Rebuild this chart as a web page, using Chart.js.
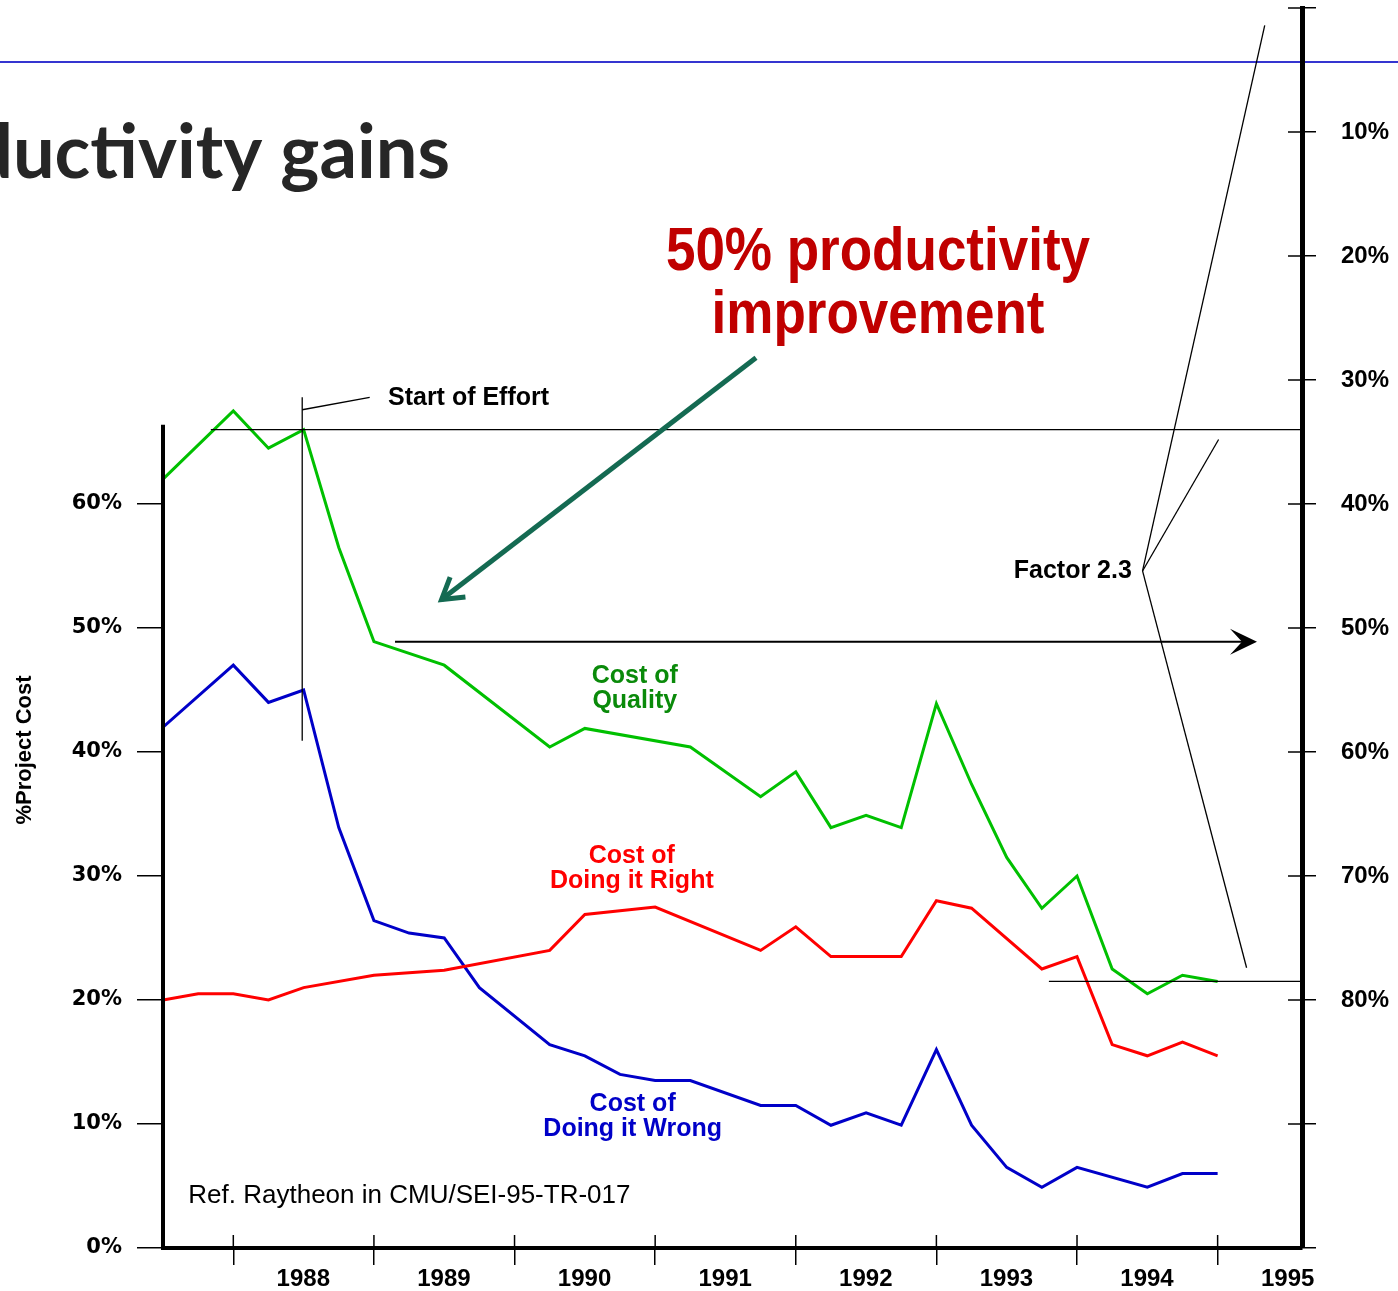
<!DOCTYPE html>
<html>
<head>
<meta charset="utf-8">
<script src="https://cdn.jsdelivr.net/npm/chart.js@4.4.1/dist/chart.umd.min.js"></script>
<style>
  html, body { margin: 0; padding: 0; background: #fff; overflow: hidden; }
  #wrap { width: 1398px; height: 1291px; }
</style>
</head>
<body>
<div id="wrap"><canvas id="chart"></canvas></div>
<script>
// quarterly readings, null = no bend in the line at that quarter
const quarters = [1987.5, 1987.75, 1988, 1988.25, 1988.5, 1988.75, 1989, 1989.25, 1989.5, 1989.75,
  1990, 1990.25, 1990.5, 1990.75, 1991, 1991.25, 1991.5, 1991.75, 1992, 1992.25,
  1992.5, 1992.75, 1993, 1993.25, 1993.5, 1993.75, 1994, 1994.25, 1994.5, 1994.75, 1995];
const costOfQuality = [62.0, null, 67.5, 64.5, 66.0, 56.5, 48.9, null, 47.0, null,
  null, 40.4, 41.9, null, null, 40.4, null, 36.4, 38.4, 33.9,
  34.9, 33.9, 43.9, 37.4, 31.5, 27.4, 30.0, 22.5, 20.5, 22.0, 21.5];
const costDoingRight = [20.0, 20.5, 20.5, 20.0, 21.0, null, 22.0, null, 22.4, null,
  null, 24.0, 26.9, null, 27.5, null, null, 24.0, 25.9, 23.5,
  null, 23.5, 28.0, 27.4, null, 22.5, 23.5, 16.4, 15.5, 16.6, 15.5];
const costDoingWrong = [42.0, null, 47.0, 44.0, 45.0, 33.9, 26.4, 25.4, 25.0, 21.0,
  null, 16.4, 15.5, 14.0, 13.5, 13.5, null, 11.5, 11.5, 9.9,
  10.9, 9.9, 16.0, 9.9, 6.5, 4.9, 6.5, null, 4.9, 6.0, 6.0];

const yearTicks = [1988, 1989, 1990, 1991, 1992, 1993, 1994, 1995];
const leftTicks = [0, 10, 20, 30, 40, 50, 60];
const rightTicks = [0, 10, 20, 30, 40, 50, 60, 70, 80, 90, 100];
const rightLabelled = [10, 20, 30, 40, 50, 60, 70, 80];

const series = [
  { label: 'Cost of Quality', values: costOfQuality, color: '#00c000' },
  { label: 'Cost of Doing it Right', values: costDoingRight, color: '#ff0000' },
  { label: 'Cost of Doing it Wrong', values: costDoingWrong, color: '#0000c8' }
];

const ARIAL = 'Liberation Sans, Arial, sans-serif';

function seg(c, x1, y1, x2, y2) {
  c.beginPath(); c.moveTo(x1, y1); c.lineTo(x2, y2); c.stroke();
}

function noPad(s) {
  s.paddingTop = 0; s.paddingBottom = 0; s.paddingLeft = 0; s.paddingRight = 0;
}

const overlay = {
  id: 'overlay',
  beforeDraw(chart) {
    const c = chart.ctx;
    c.save();
    c.strokeStyle = '#3535d0';
    c.lineWidth = 2;
    seg(c, 0, 62, chart.width, 62);
    c.fillStyle = '#262626';
    c.font = 'bold 74px Lato, sans-serif';
    c.textAlign = 'right';
    c.textBaseline = 'alphabetic';
    c.fillText('Productivity gains', 450, 178);
    c.restore();
  },
  afterDraw(chart) {
    const c = chart.ctx;
    const xs = chart.scales.x, ys = chart.scales.y, y2 = chart.scales.y2;
    const X = v => xs.getPixelForValue(v);
    const Y = v => ys.getPixelForValue(v);
    const area = chart.chartArea;
    c.save();
    c.strokeStyle = '#000';
    c.lineCap = 'butt';

    // left axis only runs up to the start level
    c.lineWidth = 4;
    seg(c, area.left, Y(0) + 2, area.left, Y(66.4));
    // inner halves of the crossing ticks
    c.lineWidth = 1.5;
    xs.ticks.forEach(t => { const p = X(t.value); seg(c, p, area.bottom - 13, p, area.bottom); });
    y2.ticks.forEach(t => { const p = y2.getPixelForValue(t.value); seg(c, area.right - 14, p, area.right, p); });

    // reference lines
    c.lineWidth = 1.3;
    seg(c, X(1987.84), Y(66), area.right, Y(66));
    seg(c, X(1993.8), Y(21.5), area.right, Y(21.5));
    // start of effort marker
    seg(c, X(1988.49), Y(68.6), X(1988.49), Y(40.9));
    seg(c, X(1988.49), Y(67.6), X(1988.97), Y(68.6));
    // factor 2.3 brackets
    const fx = X(1994.466), fy = Y(54.6);
    seg(c, fx, fy, X(1995.335), Y(98.6));
    seg(c, fx, fy, X(1995.007), Y(65.2));
    seg(c, fx, fy, X(1995.206), Y(22.6));

    // black arrow at 50% level
    const ay = Y(48.9), ax0 = X(1989.15), ax1 = X(1995.28);
    c.lineWidth = 2;
    seg(c, ax0, ay, ax1 - 12, ay);
    c.fillStyle = '#000';
    c.beginPath();
    c.moveTo(ax1, ay); c.lineTo(ax1 - 27, ay - 13); c.lineTo(ax1 - 15, ay); c.lineTo(ax1 - 27, ay + 13);
    c.closePath(); c.fill();

    // green pointer arrow
    const gx0 = X(1991.717), gy0 = Y(71.8), gx1 = X(1989.481), gy1 = Y(52.3);
    c.strokeStyle = '#146a52';
    c.lineWidth = 5;
    c.lineJoin = 'miter';
    seg(c, gx0, gy0, gx1, gy1);
    const ang = Math.atan2(gy0 - gy1, gx0 - gx1);
    c.beginPath();
    c.moveTo(gx1 + 24 * Math.cos(ang - 0.55), gy1 + 24 * Math.sin(ang - 0.55));
    c.lineTo(gx1, gy1);
    c.lineTo(gx1 + 24 * Math.cos(ang + 0.55), gy1 + 24 * Math.sin(ang + 0.55));
    c.stroke();

    // texts
    c.textBaseline = 'middle';
    c.fillStyle = '#000';
    c.font = 'bold 25px ' + ARIAL;
    c.textAlign = 'left';
    c.fillText('Start of Effort', X(1989.1), Y(68.5));
    c.textAlign = 'right';
    c.fillText('Factor 2.3', X(1994.39), fy);

    c.textAlign = 'center';
    c.fillStyle = '#0a8a0a';
    c.fillText('Cost of', X(1990.855), Y(46.1));
    c.fillText('Quality', X(1990.855), Y(44.1));
    c.fillStyle = '#ff0000';
    c.fillText('Cost of', X(1990.834), Y(31.6));
    c.fillText('Doing it Right', X(1990.834), Y(29.6));
    c.fillStyle = '#0000c8';
    c.fillText('Cost of', X(1990.84), Y(11.6));
    c.fillText('Doing it Wrong', X(1990.84), Y(9.6));

    c.fillStyle = '#000';
    c.textAlign = 'left';
    c.font = '26px ' + ARIAL;
    c.fillText('Ref. Raytheon in CMU/SEI-95-TR-017', X(1987.68), Y(4.2));

    // condensed red heading
    c.save();
    c.fillStyle = '#c00000';
    c.textAlign = 'center';
    c.textBaseline = 'alphabetic';
    c.font = 'bold 62px ' + ARIAL;
    c.translate(878, 0);
    c.scale(0.855, 1);
    c.fillText('50% productivity', 0, 270);
    c.fillText('improvement', 0, 333);
    c.restore();

    // axis title
    c.save();
    c.translate(25, 750);
    c.rotate(-Math.PI / 2);
    c.fillStyle = '#000';
    c.textAlign = 'center';
    c.textBaseline = 'middle';
    c.font = 'bold 22px ' + ARIAL;
    c.fillText('%Project Cost', 0, 0);
    c.restore();

    c.restore();
  }
};

new Chart(document.getElementById('chart'), {
  type: 'line',
  data: {
    datasets: series.map(s => ({
      label: s.label,
      data: quarters.map((q, i) => ({ x: q, y: s.values[i] })),
      borderColor: s.color,
      borderWidth: 3,
      pointRadius: 0,
      tension: 0,
      spanGaps: true,
      fill: false
    }))
  },
  options: {
    responsive: true,
    maintainAspectRatio: false,
    animation: false,
    layout: { padding: { top: 8, left: 0, right: 0, bottom: 0 } },
    plugins: { legend: { display: false }, tooltip: { enabled: false } },
    scales: {
      x: {
        type: 'linear', min: 1987.5, max: 1995.6,
        afterBuildTicks: s => { s.ticks = yearTicks.map(v => ({ value: v })); },
        afterFit: s => { s.height = 43; noPad(s); },
        grid: { display: true, drawOnChartArea: false, drawTicks: true, tickLength: 17, color: '#000', lineWidth: 1.5 },
        border: { display: true, color: '#000', width: 4 },
        ticks: {
          autoSkip: false, maxRotation: 0, padding: 0, labelOffset: 70, color: '#000',
          font: { family: ARIAL, size: 24, weight: 'bold' },
          callback: v => String(v)
        }
      },
      y: {
        position: 'left', min: 0, max: 100,
        afterBuildTicks: s => { s.ticks = leftTicks.map(v => ({ value: v })); },
        afterFit: s => { s.width = 163; noPad(s); },
        grid: { display: true, drawOnChartArea: false, drawTicks: true, tickLength: 26, color: '#000', lineWidth: 1.5 },
        border: { display: false },
        ticks: {
          padding: 15, color: '#000',
          font: { family: 'DejaVu Sans', size: 21, weight: 'bold' },
          callback: v => v + '%'
        }
      },
      y2: {
        position: 'right', reverse: true, min: 0, max: 100,
        afterBuildTicks: s => { s.ticks = rightTicks.map(v => ({ value: v })); },
        afterFit: s => { s.width = 96; noPad(s); },
        grid: { display: true, drawOnChartArea: false, drawTicks: true, tickLength: 14, color: '#000', lineWidth: 1.5 },
        border: { display: true, color: '#000', width: 5 },
        ticks: {
          padding: 25, color: '#000',
          font: { family: ARIAL, size: 24, weight: 'bold' },
          callback: v => rightLabelled.includes(v) ? v + '%' : ''
        }
      }
    }
  },
  plugins: [overlay]
});
</script>
</body>
</html>
